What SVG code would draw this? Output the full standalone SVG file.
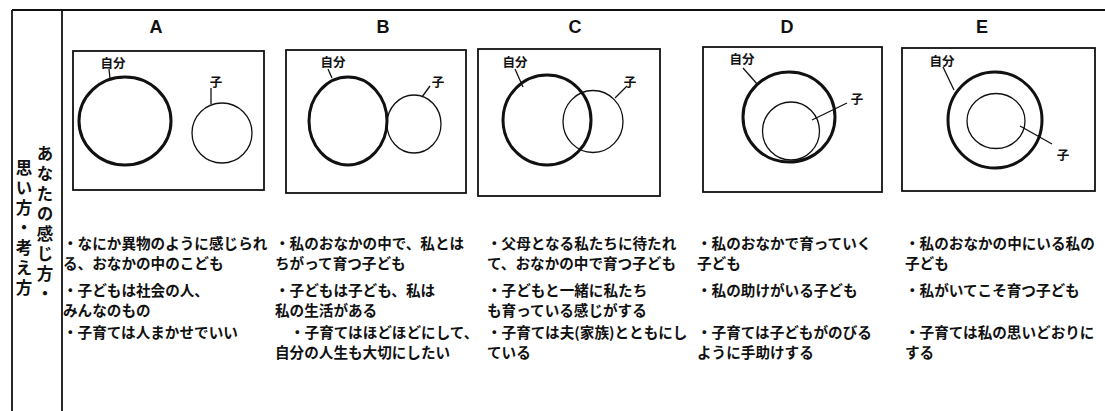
<svg xmlns="http://www.w3.org/2000/svg" width="1105" height="411" viewBox="0 0 1105 411">
<style>
.frame{stroke:#111;stroke-width:1.8;fill:none}
.box{stroke:#111;stroke-width:1.8;fill:none}
.self{stroke:#111;stroke-width:3;fill:none}
.kid{stroke:#111;stroke-width:1.3;fill:none}
.lead{stroke:#111;stroke-width:1.3;fill:none}
.hdr{font-family:"Liberation Sans",Arial,sans-serif;font-weight:700;font-size:18px;fill:#111;text-anchor:middle}
.lbl{font-family:"Noto Sans CJK JP",sans-serif;font-weight:700;font-size:12.5px;fill:#111;text-anchor:middle}
.txt{font-family:"Noto Sans CJK JP",sans-serif;font-weight:700;font-size:14.6px;fill:#111}
.vt{font-family:"Noto Sans CJK JP",sans-serif;font-weight:700;font-size:16.5px;fill:#111;writing-mode:vertical-rl;letter-spacing:3.5px}
</style>
<rect width="1105" height="411" fill="#fff"/>
<g id="frame">
<line class="frame" x1="12" y1="10" x2="1105" y2="10"/>
<line class="frame" x1="12" y1="10" x2="12" y2="411"/>
<line class="frame" x1="62" y1="10" x2="62" y2="411"/>
</g>
<g id="row-label">
<text class="vt" x="45" y="145">あなたの感じ方・</text>
<text class="vt" x="24" y="159">思い方・考え方</text>
</g>
<g id="panel-A">
<text class="hdr" x="156" y="33">A</text>
<rect class="box" x="73" y="51" width="191" height="139"/>
<ellipse class="self" cx="125" cy="121" rx="46" ry="44"/>
<ellipse class="kid" cx="222" cy="133" rx="30" ry="30"/>
<text class="lbl" x="113" y="68">自分</text>
<line class="lead" x1="109" y1="69" x2="110" y2="79"/>
<text class="lbl" x="216" y="87">子</text>
<line class="lead" x1="211" y1="88" x2="211" y2="104"/>
</g>
<g id="panel-B">
<text class="hdr" x="383" y="33">B</text>
<rect class="box" x="286" y="50" width="180" height="143"/>
<ellipse class="self" cx="348" cy="121" rx="39" ry="44"/>
<ellipse class="kid" cx="414" cy="124" rx="27" ry="29"/>
<text class="lbl" x="333" y="67">自分</text>
<line class="lead" x1="328" y1="69" x2="332" y2="78"/>
<text class="lbl" x="438" y="87">子</text>
<line class="lead" x1="422" y1="97" x2="430" y2="86"/>
</g>
<g id="panel-C">
<text class="hdr" x="575" y="33">C</text>
<rect class="box" x="478" y="49" width="182" height="147"/>
<ellipse class="self" cx="547" cy="120" rx="44" ry="45"/>
<ellipse class="kid" cx="593" cy="121.5" rx="30" ry="31"/>
<text class="lbl" x="515" y="67">自分</text>
<line class="lead" x1="515" y1="69" x2="523" y2="87"/>
<text class="lbl" x="630" y="87">子</text>
<line class="lead" x1="615" y1="98" x2="627" y2="86"/>
</g>
<g id="panel-D">
<text class="hdr" x="787" y="33">D</text>
<rect class="box" x="703" y="47" width="179" height="145"/>
<ellipse class="self" cx="789" cy="117" rx="46" ry="45"/>
<ellipse class="kid" cx="791" cy="131" rx="28.5" ry="29"/>
<text class="lbl" x="742" y="64">自分</text>
<line class="lead" x1="743" y1="68" x2="758" y2="85"/>
<text class="lbl" x="857" y="104">子</text>
<line class="lead" x1="847" y1="103" x2="812" y2="120"/>
</g>
<g id="panel-E">
<text class="hdr" x="982" y="33">E</text>
<rect class="box" x="902" y="48" width="193" height="143"/>
<ellipse class="self" cx="995" cy="120" rx="47" ry="48"/>
<ellipse class="kid" cx="996" cy="121" rx="29" ry="27.5"/>
<text class="lbl" x="942" y="66">自分</text>
<line class="lead" x1="943" y1="67" x2="954" y2="90"/>
<text class="lbl" x="1063" y="160">子</text>
<line class="lead" x1="1020" y1="126" x2="1052" y2="144"/>
</g>
<g id="text-A">
<text class="txt" x="63" y="249">・なにか異物のように感じられ</text>
<text class="txt" x="63" y="269">る、おなかの中のこども</text>
<text class="txt" x="63" y="296">・子どもは社会の人、</text>
<text class="txt" x="63" y="316">みんなのもの</text>
<text class="txt" x="63" y="338">・子育ては人まかせでいい</text>
</g>
<g id="text-B">
<text class="txt" x="275" y="249">・私のおなかの中で、私とは</text>
<text class="txt" x="275" y="269">ちがって育つ子ども</text>
<text class="txt" x="275" y="296">・子どもは子ども、私は</text>
<text class="txt" x="275" y="316">私の生活がある</text>
<text class="txt" x="290" y="338">・子育てはほどほどにして、</text>
<text class="txt" x="275" y="358">自分の人生も大切にしたい</text>
</g>
<g id="text-C">
<text class="txt" x="487" y="249">・父母となる私たちに待たれ</text>
<text class="txt" x="487" y="269">て、おなかの中で育つ子ども</text>
<text class="txt" x="487" y="296">・子どもと一緒に私たち</text>
<text class="txt" x="487" y="316">も育っている感じがする</text>
<text class="txt" x="487" y="338">・子育ては夫(家族)とともにし</text>
<text class="txt" x="487" y="358">ている</text>
</g>
<g id="text-D">
<text class="txt" x="697" y="249">・私のおなかで育っていく</text>
<text class="txt" x="697" y="269">子ども</text>
<text class="txt" x="697" y="296">・私の助けがいる子ども</text>
<text class="txt" x="697" y="338">・子育ては子どもがのびる</text>
<text class="txt" x="697" y="358">ように手助けする</text>
</g>
<g id="text-E">
<text class="txt" x="905" y="249">・私のおなかの中にいる私の</text>
<text class="txt" x="905" y="269">子ども</text>
<text class="txt" x="905" y="296">・私がいてこそ育つ子ども</text>
<text class="txt" x="905" y="338">・子育ては私の思いどおりに</text>
<text class="txt" x="905" y="358">する</text>
</g>
</svg>
